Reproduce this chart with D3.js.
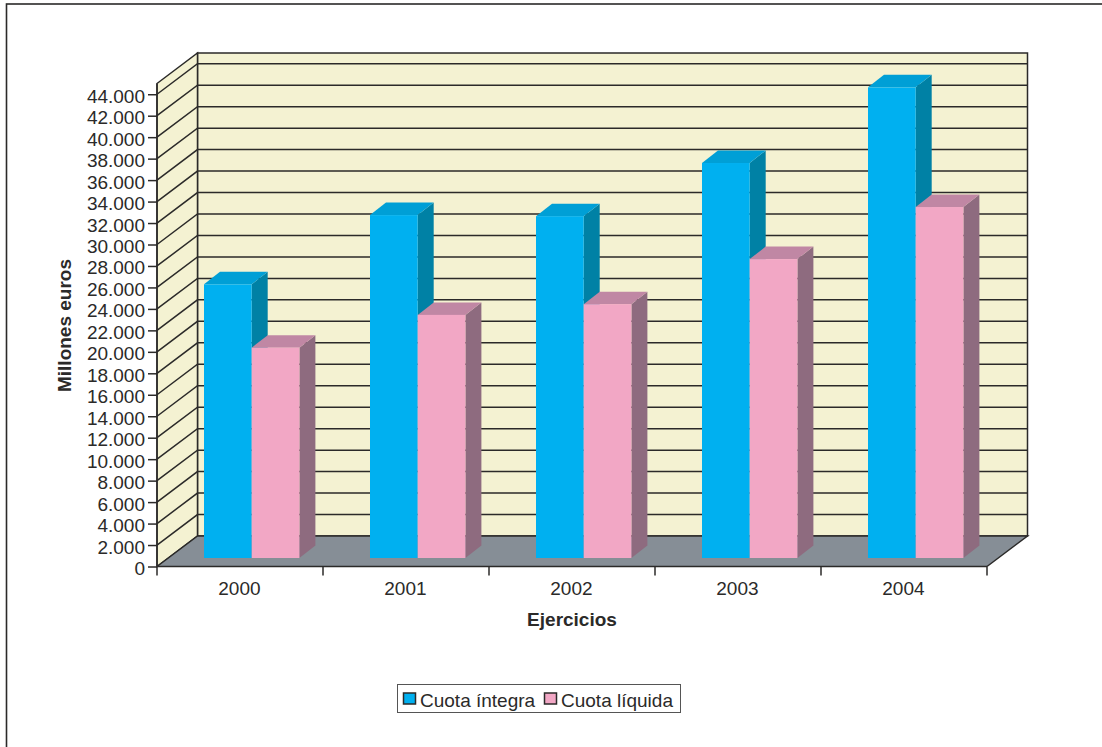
<!DOCTYPE html>
<html>
<head>
<meta charset="utf-8">
<script src="https://cdn.jsdelivr.net/npm/d3@7"></script>
<style>
  html, body { margin: 0; padding: 0; background: #fff; }
  svg { display: block; }
  text { font-family: "Liberation Sans", Arial, sans-serif; fill: #2b2a29; }
</style>
</head>
<body>
<div id="chart"></div>
<script>
var years = ["2000", "2001", "2002", "2003", "2004"];
var cuotaIntegra = [25500, 31950, 31850, 36800, 43850];
var cuotaLiquida = [19600, 22650, 23650, 27850, 32700];
var seriesNames = ["Cuota íntegra", "Cuota líquida"];
var yTicks = d3.range(0, 44001, 2000);

var svgWidth = 1102, svgHeight = 747;

var colors = {
    wall: "#f4f2d2", floor: "#868e96", line: "#2b2a29",
    blue: ["#00b0f0", "#009fd6", "#0081a5"],
    pink: ["#f2a7c5", "#c087a4", "#8e6b7f"]
};

// plot box on the front plane, and how far the back wall is pushed away
var plot = { left: 157, right: 987, bottom: 566.5 };
var depth = { x: 40.5, y: 30.5 };
// bars stand a little way in from the front edge
var barLift = 8.5, barDx = 16, barDy = 12.5;

var svg = d3.select("#chart").append("svg")
    .attr("width", svgWidth)
    .attr("height", svgHeight);

svg.append("rect")
    .attr("x", 6.5).attr("y", 4)
    .attr("width", 1100).attr("height", 760)
    .attr("fill", "#fff").attr("stroke", colors.line).attr("stroke-width", 1.6);

var yScale = d3.scaleLinear().domain([0, 45000]).range([plot.bottom, 83.5]);
var xScale = d3.scaleBand().domain(years).range([plot.left, plot.right]);

var chartGroup = svg.append("g");

// back wall, side wall, floor
function poly(points, fill) {
    return chartGroup.append("polygon")
        .attr("points", points.map(p => p.join(",")).join(" "))
        .attr("fill", fill);
}
var wallTop = yScale(45000);
poly([[plot.left + depth.x, wallTop - depth.y], [plot.right + depth.x, wallTop - depth.y],
      [plot.right + depth.x, plot.bottom - depth.y], [plot.left + depth.x, plot.bottom - depth.y]], colors.wall)
    .attr("stroke", colors.line).attr("stroke-width", 1.5);
poly([[plot.left, wallTop], [plot.left + depth.x, wallTop - depth.y],
      [plot.left + depth.x, plot.bottom - depth.y], [plot.left, plot.bottom]], colors.wall)
    .attr("stroke", colors.line).attr("stroke-width", 1.5);
poly([[plot.left, plot.bottom], [plot.left + depth.x, plot.bottom - depth.y],
      [plot.right + depth.x, plot.bottom - depth.y], [plot.right, plot.bottom]], colors.floor);

// gridlines wrap from the left axis over the side wall and along the back
chartGroup.selectAll(".grid")
    .data(yTicks.filter(d => d > 0))
    .enter()
    .append("polyline")
    .attr("class", "grid")
    .attr("points", d => {
        var y = yScale(d);
        return [[plot.left, y], [plot.left + depth.x, y - depth.y], [plot.right + depth.x, y - depth.y]]
            .map(p => p.join(",")).join(" ");
    })
    .attr("fill", "none")
    .attr("stroke", colors.line)
    .attr("stroke-width", 1.5);

// floor edges
chartGroup.append("polyline")
    .attr("points", [[plot.left, plot.bottom], [plot.left + depth.x, plot.bottom - depth.y],
        [plot.right + depth.x, plot.bottom - depth.y], [plot.right, plot.bottom]].map(p => p.join(",")).join(" "))
    .attr("fill", "none").attr("stroke", colors.line).attr("stroke-width", 1.5);

// bars
var barGroupOffset = 47, barWidth = 47.7;
var series = [
    { name: seriesNames[0], values: cuotaIntegra, shades: colors.blue, shift: 0 },
    { name: seriesNames[1], values: cuotaLiquida, shades: colors.pink, shift: barWidth }
];

years.forEach(function(year, i) {
    series.forEach(function(s) {
        var x0 = xScale(year) + barGroupOffset + s.shift;
        var x1 = x0 + barWidth;
        var yTop = yScale(s.values[i]) - barLift;
        var yBase = plot.bottom - barLift;
        // side, top, then front
        poly([[x1, yTop], [x1 + barDx, yTop - barDy], [x1 + barDx, yBase - barDy], [x1, yBase]], s.shades[2]);
        poly([[x0, yTop], [x0 + barDx, yTop - barDy], [x1 + barDx, yTop - barDy], [x1, yTop]], s.shades[1]);
        chartGroup.append("rect")
            .attr("x", x0).attr("y", yTop)
            .attr("width", barWidth).attr("height", yBase - yTop)
            .attr("fill", s.shades[0]);
    });
});

// axes
var leftAxis = d3.axisLeft(yScale)
    .tickValues(yTicks)
    .tickFormat(d => d === 0 ? "0" : d3.format(",")(d).replace(",", "."))
    .tickSize(9)
    .tickPadding(3);
var bottomAxis = d3.axisBottom(xScale).tickSize(0).tickPadding(15);

var yAxisGroup = chartGroup.append("g")
    .attr("transform", `translate(${plot.left}, 0)`)
    .call(leftAxis);
var xAxisGroup = chartGroup.append("g")
    .attr("transform", `translate(0, ${plot.bottom})`)
    .call(bottomAxis);

// category separators sit on the band edges, not on band centres
xAxisGroup.selectAll(".edge")
    .data(years.concat(["end"]))
    .enter()
    .append("line")
    .attr("class", "edge")
    .attr("x1", (d, i) => plot.left + i * xScale.step())
    .attr("x2", (d, i) => plot.left + i * xScale.step())
    .attr("y1", 0).attr("y2", 9)
    .attr("stroke", colors.line).attr("stroke-width", 1.5);

[yAxisGroup, xAxisGroup].forEach(function(g) {
    g.selectAll("text").style("font-size", "19px").attr("font-family", null);
    g.selectAll("line").attr("stroke", colors.line).attr("stroke-width", 1.5);
    g.selectAll(".domain").attr("stroke", colors.line).attr("stroke-width", 1.5);
});
yAxisGroup.selectAll("text").attr("dy", "0.42em");
xAxisGroup.selectAll("text").attr("dx", "-0.6");
yAxisGroup.select(".domain").attr("d", `M0,${wallTop}V${plot.bottom}`);
xAxisGroup.select(".domain").attr("d", `M${plot.left},0H${plot.right}`);

// axis titles
svg.append("text")
    .attr("transform", "translate(71, 325.5) rotate(-90)")
    .attr("text-anchor", "middle")
    .style("font-size", "19px").style("font-weight", "bold")
    .text("Millones euros");
svg.append("text")
    .attr("x", 572).attr("y", 626)
    .attr("text-anchor", "middle")
    .style("font-size", "19px").style("font-weight", "bold")
    .text("Ejercicios");

// legend
var legend = svg.append("g");
legend.append("rect")
    .attr("x", 397.5).attr("y", 684.5).attr("width", 283).attr("height", 28)
    .attr("fill", "#fff").attr("stroke", "#555").attr("stroke-width", 1);
var legendX = [403.5, 544.5];
series.forEach(function(s, i) {
    legend.append("rect")
        .attr("x", legendX[i]).attr("y", 693).attr("width", 12).attr("height", 11)
        .attr("fill", s.shades[0]).attr("stroke", colors.line).attr("stroke-width", 1.5);
    legend.append("text")
        .attr("x", legendX[i] + 16.5).attr("y", 707)
        .style("font-size", "19px")
        .text(s.name);
});
</script>
</body>
</html>
